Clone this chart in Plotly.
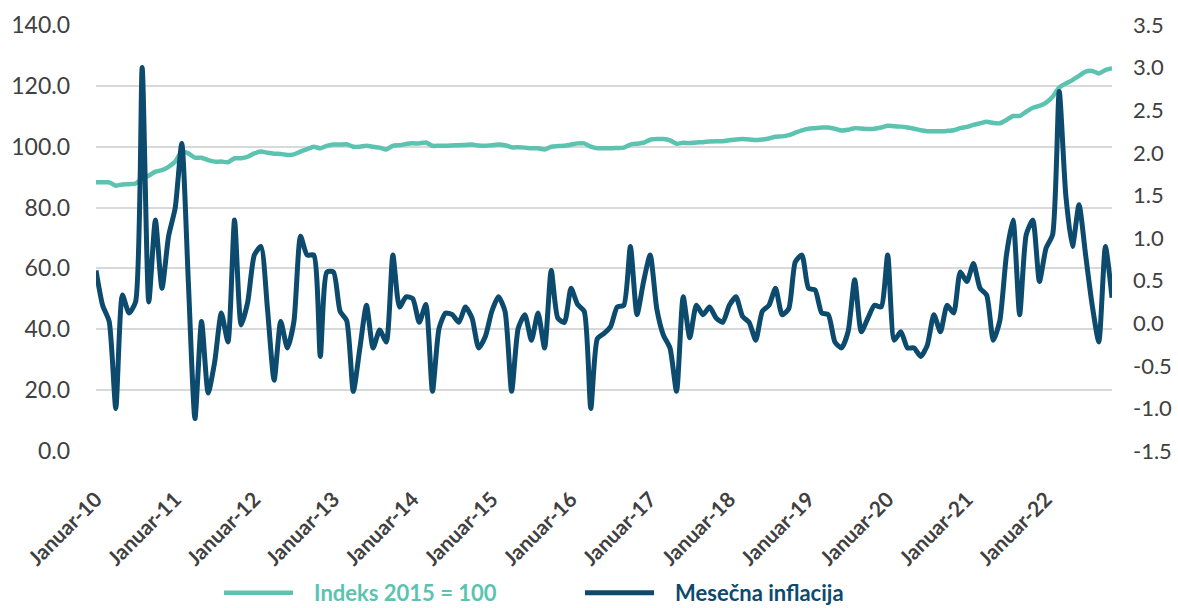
import plotly.graph_objects as go

# Monthly data, January 2010 - November 2022
start_year = 2010
index_2015 = [
    88.3, 88.3, 88.3, 87.2, 87.6, 87.7, 87.9, 89.6, 90.5, 91.8,
    92.3, 93.4, 95.1, 98.4, 97.8, 96.4, 96.4, 95.6, 95.1, 95.1,
    94.9, 96.2, 96.2, 96.7, 97.8, 98.4, 98.0, 97.7, 97.6, 97.3,
    97.5, 98.4, 99.2, 100.0, 99.5, 100.3, 100.7, 100.7, 100.8, 100.0,
    100.0, 100.3, 100.0, 99.7, 99.1, 100.3, 100.5, 100.9, 101.1, 101.1,
    101.4, 100.3, 100.3, 100.3, 100.4, 100.5, 100.6, 100.7, 100.4, 100.3,
    100.5, 100.7, 100.5, 99.8, 99.8, 99.7, 99.5, 99.5, 99.1, 100.0,
    100.2, 100.3, 100.7, 101.1, 101.1, 100.0, 99.5, 99.5, 99.5, 99.6,
    99.7, 100.7, 101.0, 101.3, 102.3, 102.5, 102.5, 102.1, 101.0, 101.3,
    101.2, 101.4, 101.5, 101.7, 101.8, 101.8, 102.1, 102.4, 102.5, 102.4,
    102.2, 102.4, 102.7, 103.3, 103.4, 103.8, 104.6, 105.4, 105.9, 106.1,
    106.3, 106.3, 105.9, 105.3, 105.6, 106.1, 106.0, 105.8, 105.9, 106.3,
    106.9, 106.7, 106.6, 106.3, 105.9, 105.4, 105.1, 105.1, 105.1, 105.2,
    105.4, 106.1, 106.5, 107.2, 107.7, 108.2, 107.8, 107.7, 108.8, 110.1,
    110.1, 111.5, 112.8, 113.4, 114.5, 116.4, 119.5, 120.8, 121.9, 123.3,
    124.7, 124.9, 124.1, 125.2, 125.8,
]
monthly_inflation = [
    0.62, 0.21, 0.02, -1.0, 0.33, 0.12, 0.25, 3.0, 0.25, 1.21,
    0.41, 1.02, 1.35, 2.11, 0.48, -1.12, 0.02, -0.82, -0.45, 0.12,
    -0.22, 1.21, -0.02, 0.25, 0.80, 0.90, 0.16, -0.67, 0.02, -0.29,
    0.02, 1.02, 0.80, 0.80, -0.39, 0.60, 0.60, 0.14, 0.03, -0.80,
    -0.29, 0.21, -0.29, -0.08, -0.22, 0.80, 0.19, 0.31, 0.29, 0.01,
    0.22, -0.80, -0.06, 0.12, 0.10, 0.01, 0.19, 0.06, -0.29, -0.16,
    0.14, 0.31, 0.14, -0.80, -0.06, 0.10, -0.20, 0.12, -0.29, 0.62,
    0.06, 0.01, 0.41, 0.22, 0.14, -1.0, -0.18, -0.12, -0.04, 0.19,
    0.21, 0.90, 0.10, 0.49, 0.80, 0.17, -0.14, -0.29, -0.80, 0.31,
    -0.17, 0.21, 0.10, 0.19, 0.06, 0.01, 0.21, 0.31, 0.08, 0.01,
    -0.20, 0.14, 0.21, 0.41, 0.10, 0.17, 0.72, 0.80, 0.41, 0.39,
    0.12, 0.10, -0.22, -0.29, -0.10, 0.51, -0.10, 0.06, 0.21, 0.19,
    0.80, -0.20, -0.10, -0.29, -0.29, -0.39, -0.26, 0.10, -0.10, 0.21,
    0.12, 0.60, 0.49, 0.70, 0.41, 0.33, -0.20, 0.03, 0.80, 1.21,
    0.10, 1.04, 1.21, 0.49, 0.88, 1.04, 2.72, 1.50, 0.90, 1.39,
    0.80, 0.21, -0.22, 0.90, 0.30,
]
months = [f"{start_year + k // 12}-{k % 12 + 1:02d}" for k in range(len(index_2015))]
tick_months = [m for m in months if m.endswith("-01")]
tick_labels = [f"Januar-{m[2:4]}" for m in tick_months]
left_ticks = [0, 20, 40, 60, 80, 100, 120, 140]
right_ticks = [-1.5, -1.0, -0.5, 0.0, 0.5, 1.0, 1.5, 2.0, 2.5, 3.0, 3.5]
right_tick_text = [f"{v:.1f}" for v in right_ticks]  # plain hyphen minus, as in the original

TEAL = "#5cc3b1"
NAVY = "#0c4a6e"
FONT = "Lato"
PAD = "\u00a0\u00a0\u00a0"  # gap between legend line and its label


def legend_name(text, color):
    return f"{PAD}<span style='color:{color}'>{text}</span>"


fig = go.Figure()
fig.add_trace(go.Scatter(
    x=months, y=index_2015, name=legend_name("Indeks 2015 = 100", TEAL), mode="lines",
    line=dict(color=TEAL, width=4.5, shape="spline", smoothing=0.6),
    xaxis="x", yaxis="y",
))
fig.add_trace(go.Scatter(
    x=months, y=monthly_inflation, name=legend_name("Mesečna inflacija", NAVY), mode="lines",
    line=dict(color=NAVY, width=5, shape="spline", smoothing=0.6),
    xaxis="x", yaxis="y2",
))

fig.update_layout(
    width=1178, height=608,
    margin=dict(l=96, r=66, t=25, b=157, autoexpand=False),
    paper_bgcolor="white", plot_bgcolor="white",
    font=dict(family=FONT, color="#404040"),
    xaxis=dict(
        type="category", range=[0, len(months) - 1], automargin=False,
        tickmode="array", tickvals=tick_months, ticktext=tick_labels,
        tickangle=-45, tickfont=dict(size=21, weight="bold", color="#404040"),
        showgrid=False, zeroline=False, showline=False, ticks="",
        ticklabelstandoff=31,
    ),
    yaxis=dict(
        range=[0, 140], tickmode="array", tickvals=left_ticks, automargin=False,
        tickformat=".1f", tickfont=dict(size=23, color="#404040"),
        showgrid=True, gridcolor="#d9d9d9", gridwidth=1.5,
        zeroline=False, showline=False, ticks="", ticklabelstandoff=25,
    ),
    yaxis2=dict(
        range=[-1.5, 3.5], tickmode="array", tickvals=right_ticks,
        ticktext=right_tick_text, automargin=False,
        tickfont=dict(size=22, color="#404040"),
        overlaying="y", side="right", showgrid=False,
        zeroline=False, showline=False, ticks="", ticklabelstandoff=20,
    ),
    showlegend=True,
    legend=dict(
        orientation="h", xref="container", x=(232 - 13) / 1178, xanchor="left",
        yref="container", y=1 - 593 / 608, yanchor="middle",
        font=dict(size=22, weight="bold"), itemwidth=69,
        entrywidth=277, entrywidthmode="pixels",
        bgcolor="rgba(0,0,0,0)",
    ),
)

fig.write_html(
    "out.html",
    config={"displayModeBar": False},
    post_script="document.body.style.margin='0';document.body.style.overflow='hidden';",
)
